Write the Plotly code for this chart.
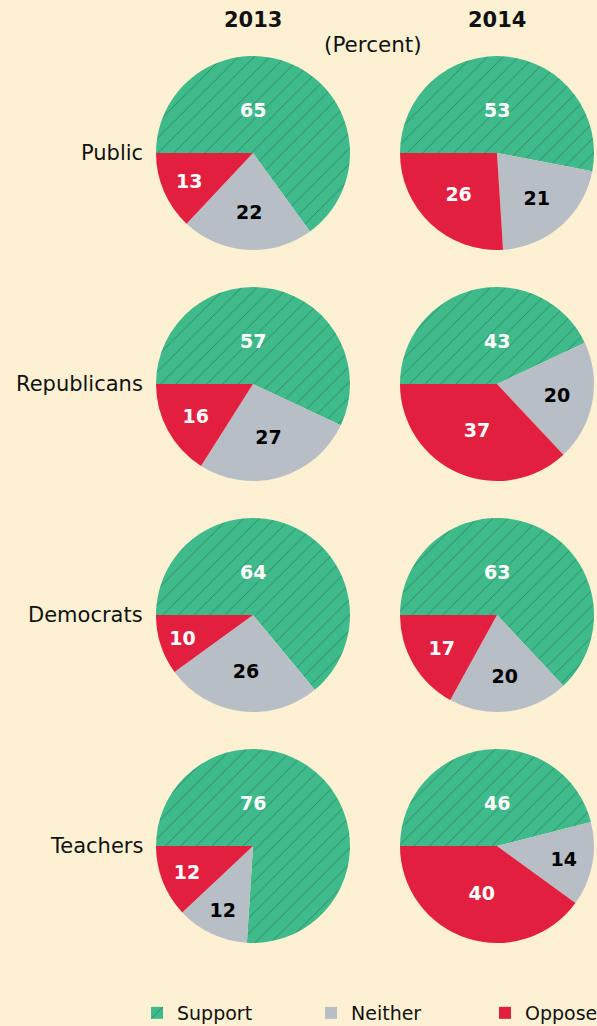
import plotly.graph_objects as go

# ---- data ----
groups = ["Public", "Republicans", "Democrats", "Teachers"]
years = ["2013", "2014"]
categories = ["Support", "Neither", "Oppose"]
support_2013 = [65, 57, 64, 76]
neither_2013 = [22, 27, 26, 12]
oppose_2013 = [13, 16, 10, 12]
support_2014 = [53, 43, 63, 46]
neither_2014 = [21, 20, 20, 14]
oppose_2014 = [26, 37, 17, 40]

colors = ["#3fba8a", "#b8bec6", "#e21f3f"]
text_colors = ["white", "black", "white"]
BG = "#fef1d3"
FONT = "DejaVu Sans"

W, H = 597, 1026
col_cx = [253, 497]
row_cy = [153, 384, 615, 846]
R = 97

values_by_year = {
    "2013": (support_2013, neither_2013, oppose_2013),
    "2014": (support_2014, neither_2014, oppose_2014),
}

fig = go.Figure()
annotations = []
first = True
for ci, yr in enumerate(years):
    s, n, o = values_by_year[yr]
    for ri, g in enumerate(groups):
        cx, cy = col_cx[ci], row_cy[ri]
        dom_x = [(cx - R) / W, (cx + R) / W]
        dom_y = [1 - (cy + R) / H, 1 - (cy - R) / H]
        vals = [s[ri], n[ri], o[ri]]
        fig.add_trace(go.Pie(
            labels=categories,
            values=vals,
            sort=False,
            direction="clockwise",
            rotation=-90,
            domain=dict(x=dom_x, y=dom_y),
            marker=dict(
                colors=colors,
                line=dict(width=0),
                pattern=dict(shape=["/", "", ""], fillmode="overlay",
                             fgcolor="#1d5a42", fgopacity=0.55, size=11,
                             solidity=0.08),
            ),
            texttemplate=["", "%{value}", "%{value}"],
            textposition="inside",
            insidetextorientation="horizontal",
            textfont=dict(family=FONT, size=19, color=text_colors, weight="bold"),
            hoverinfo="label+value",
            showlegend=first,
        ))
        first = False
        # support label placed at the top of the pie
        annotations.append(dict(
            x=cx / W, y=1 - (cy - 0.44 * R) / H, xref="paper", yref="paper",
            text=f"<b>{s[ri]}</b>", showarrow=False,
            font=dict(family=FONT, size=19, color="white"),
            xanchor="center", yanchor="middle"))

# row labels
for ri, g in enumerate(groups):
    annotations.append(dict(
        x=145 / W, y=1 - row_cy[ri] / H, xref="paper", yref="paper",
        text=g, showarrow=False, xanchor="right", yanchor="middle",
        font=dict(family=FONT, size=21, color="#111111")))

# column titles
for ci, yr in enumerate(years):
    annotations.append(dict(
        x=col_cx[ci] / W, y=1 - 20 / H, xref="paper", yref="paper",
        text=f"<b>{yr}</b>", showarrow=False, xanchor="center", yanchor="middle",
        font=dict(family=FONT, size=21, color="#111111")))
annotations.append(dict(
    x=373 / W, y=1 - 44 / H, xref="paper", yref="paper",
    text="(Percent)", showarrow=False, xanchor="center", yanchor="middle",
    font=dict(family=FONT, size=21.5, color="#111111")))

fig.update_layout(
    width=W, height=H,
    margin=dict(l=0, r=0, t=0, b=0, autoexpand=False),
    paper_bgcolor=BG, plot_bgcolor=BG,
    annotations=annotations,
    legend=dict(
        orientation="h", x=137 / W, y=1 - 1013 / H, xanchor="left", yanchor="middle",
        entrywidth=129, entrywidthmode="pixels",
        font=dict(family=FONT, size=19, color="#111111"),
        bgcolor="rgba(0,0,0,0)", traceorder="normal",
    ),
)

fig.write_html("out.html", config={"displayModeBar": False},
               post_script="document.body.style.margin='0';document.body.style.overflow='hidden';")
